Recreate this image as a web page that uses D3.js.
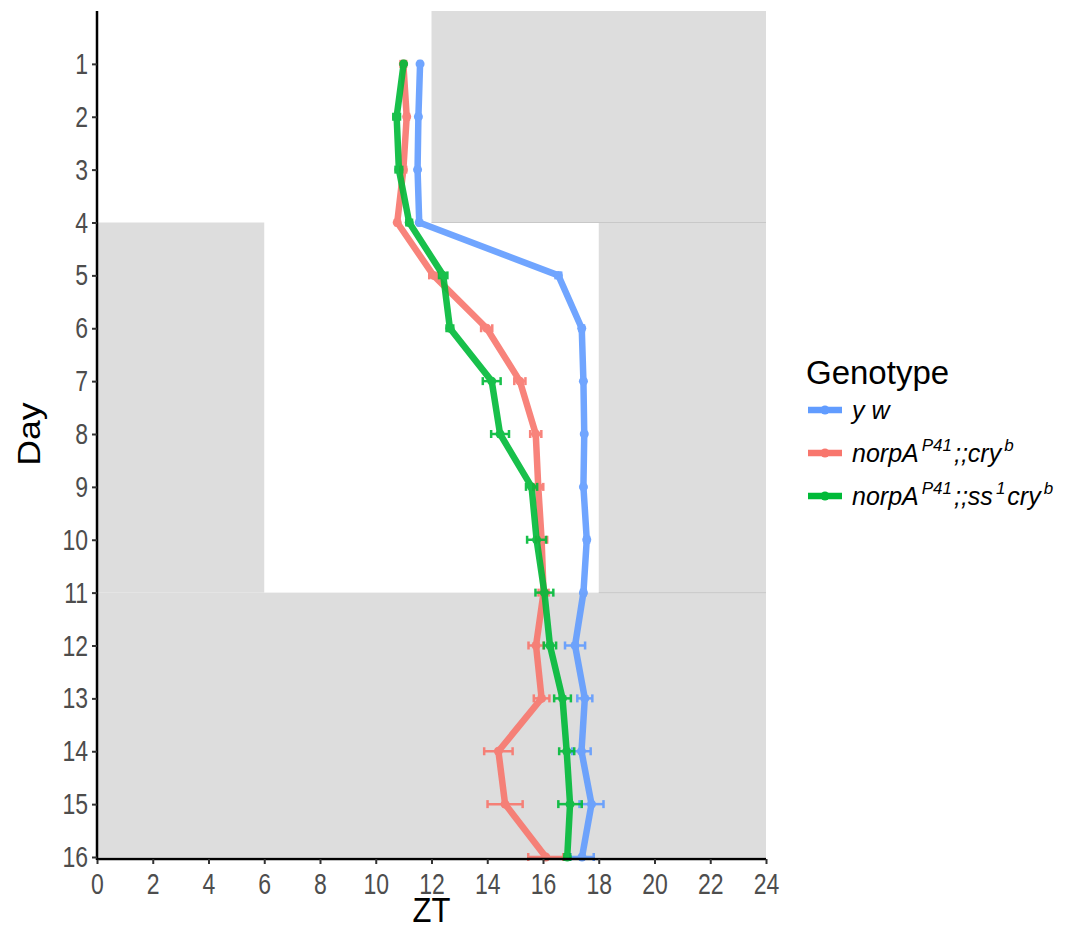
<!DOCTYPE html>
<html>
<head>
<meta charset="utf-8">
<script src="https://cdn.jsdelivr.net/npm/d3@7"></script>
<style>
  body { margin: 0; background: #fff; }
  svg text { font-family: "Liberation Sans", Arial, sans-serif; }
</style>
</head>
<body>
<div id="chart"></div>
<script>
// Data: mean phase (ZT) per day, with error bar half-width
const days = d3.range(1, 17);
const genotypes = ["yw", "norpA;;cry", "norpA;;ss cry"];
const ywZT = [11.59, 11.53, 11.5, 11.56, 16.55, 17.39, 17.45, 17.48, 17.45, 17.57, 17.45, 17.15, 17.5, 17.38, 17.74, 17.4];
const ywErr = [0.05, 0.05, 0.05, 0.05, 0.1, 0.08, 0.05, 0.05, 0.05, 0.08, 0.08, 0.36, 0.27, 0.33, 0.43, 0.42];
const cryZT = [10.99, 11.11, 10.99, 10.77, 12.07, 13.98, 15.17, 15.74, 15.83, 15.95, 16.02, 15.75, 15.95, 14.4, 14.64, 16.1];
const cryErr = [0.1, 0.08, 0.1, 0.05, 0.15, 0.2, 0.2, 0.2, 0.18, 0.2, 0.18, 0.27, 0.28, 0.51, 0.63, 0.63];
const ssZT = [11.0, 10.75, 10.83, 11.2, 12.42, 12.66, 14.16, 14.46, 15.59, 15.77, 16.05, 16.25, 16.7, 16.85, 16.97, 16.87];
const ssErr = [0.05, 0.12, 0.12, 0.1, 0.15, 0.12, 0.32, 0.32, 0.2, 0.34, 0.32, 0.22, 0.3, 0.27, 0.42, 0.1];
const colors = ["#619CFF", "#F8766D", "#00BA38"];

// dark phases of the light schedule (day range, ZT range)
const darkDays = [[0, 4], [4, 11], [4, 11], [11, 16]];
const darkZT = [[12, 24], [0, 6], [18, 24], [0, 24]];

const xTicks = d3.range(0, 25, 2);

const width = 1069, height = 929;
const margin = { top: 11, right: 303, bottom: 72, left: 97 };
const stretch = 1.3; // the figure's text is taller than it is wide

const svg = d3.select("#chart").append("svg")
    .attr("width", width)
    .attr("height", height);

const x = d3.scaleLinear().domain([0, 24]).range([margin.left, width - margin.right]);
const y = d3.scaleLinear().domain([0, 16]).range([margin.top, height - margin.bottom]);

// shaded background
darkDays.forEach((dd, i) => {
    svg.append("rect")
        .attr("x", x(darkZT[i][0]))
        .attr("y", y(dd[0]))
        .attr("width", x(darkZT[i][1]) - x(darkZT[i][0]))
        .attr("height", y(dd[1]) - y(dd[0]))
        .attr("fill", "#dddddd");
});
// faint seams where shaded blocks meet
svg.append("line")
    .attr("x1", x(darkZT[0][0])).attr("x2", x(24))
    .attr("y1", y(darkDays[0][1])).attr("y2", y(darkDays[0][1]))
    .attr("stroke", "#c8c8c8");
svg.append("line")
    .attr("x1", x(darkZT[2][0])).attr("x2", x(24))
    .attr("y1", y(darkDays[3][0])).attr("y2", y(darkDays[3][0]))
    .attr("stroke", "#c8c8c8");

const series = [
    { zt: ywZT, err: ywErr },
    { zt: cryZT, err: cryErr },
    { zt: ssZT, err: ssErr }
];

const line = d3.line()
    .x(d => x(d.zt))
    .y(d => y(d.day));

series.forEach((s, i) => {
    const pts = days.map((day, j) => ({ day: day, zt: s.zt[j], err: s.err[j] }));
    const g = svg.append("g").attr("opacity", 0.9);

    g.append("path")
        .datum(pts)
        .attr("fill", "none")
        .attr("stroke", colors[i])
        .attr("stroke-width", 6.5)
        .attr("stroke-linejoin", "round")
        .attr("d", line);

    pts.forEach(d => {
        g.append("line")
            .attr("x1", x(d.zt - d.err)).attr("x2", x(d.zt + d.err))
            .attr("y1", y(d.day)).attr("y2", y(d.day))
            .attr("stroke", colors[i]).attr("stroke-width", 2.5);
        [d.zt - d.err, d.zt + d.err].forEach(v => {
            g.append("line")
                .attr("x1", x(v)).attr("x2", x(v))
                .attr("y1", y(d.day) - 4).attr("y2", y(d.day) + 4)
                .attr("stroke", colors[i]).attr("stroke-width", 2.5);
        });
    });

    g.selectAll("circle")
        .data(pts)
        .enter().append("circle")
        .attr("cx", d => x(d.zt))
        .attr("cy", d => y(d.day))
        .attr("r", 4.5)
        .attr("fill", colors[i]);
});

// axes
const xAxis = svg.append("g")
    .attr("transform", `translate(0, ${y(16) + 2})`)
    .call(d3.axisBottom(x).tickValues(xTicks).tickSize(5).tickSizeOuter(0));
const yAxis = svg.append("g")
    .attr("transform", `translate(${margin.left}, 0)`)
    .call(d3.axisLeft(y).tickValues(days).tickSize(5).tickSizeOuter(0));

[xAxis, yAxis].forEach(a => {
    a.select(".domain").attr("stroke", "#000").attr("stroke-width", 2.5);
    a.selectAll(".tick line").attr("stroke", "#333").attr("stroke-width", 2);
    a.selectAll(".tick text")
        .attr("fill", "#4d4d4d")
        .style("font-size", "23px")
        .attr("transform", `scale(1, ${stretch})`);
});
xAxis.select(".domain").attr("d", `M${x(0)},0H${x(24)}`);
yAxis.select(".domain").attr("d", `M0,${margin.top}V${y(16) + 3}`);
xAxis.selectAll(".tick text").attr("y", 35 / stretch).attr("dy", 0);
yAxis.selectAll(".tick text").attr("x", -9);

svg.append("text")
    .attr("transform", `translate(${x(12)}, 922) scale(1, 1.15)`)
    .attr("text-anchor", "middle")
    .style("font-size", "31px")
    .text("ZT");

svg.append("text")
    .attr("transform", `translate(40, ${y(8)}) rotate(-90) scale(1.15, 1)`)
    .attr("text-anchor", "middle")
    .style("font-size", "31px")
    .text("Day");

// legend
const legend = svg.append("g").attr("transform", "translate(806, 0)");
legend.append("text")
    .attr("x", 0).attr("y", 384)
    .style("font-size", "33px")
    .text("Genotype");

const legendY = [410, 453, 496];
const labelParts = [
    [["y w", false]],
    [["norpA", false], ["P41", true], [";;cry", false], ["b", true]],
    [["norpA", false], ["P41", true], [";;ss", false], ["1", true], ["cry", false], ["b", true]]
];

genotypes.forEach((gname, i) => {
    const ly = legendY[i];
    legend.append("line")
        .attr("x1", 2).attr("x2", 36)
        .attr("y1", ly).attr("y2", ly)
        .attr("stroke", colors[i]).attr("stroke-width", 6.5);
    legend.append("circle")
        .attr("cx", 19).attr("cy", ly).attr("r", 4.5)
        .attr("fill", colors[i]);

    const t = legend.append("text")
        .attr("x", 46).attr("y", ly + 9)
        .style("font-size", "25px")
        .style("font-style", "italic");
    let prevSup = false;
    labelParts[i].forEach(p => {
        const ts = t.append("tspan").text(p[0]);
        if (p[1]) {
            ts.attr("dy", -11).attr("dx", 3).style("font-size", "17px");
        } else if (prevSup) {
            ts.attr("dy", 11).attr("dx", 2);
        }
        prevSup = p[1];
    });
});
</script>
</body>
</html>
